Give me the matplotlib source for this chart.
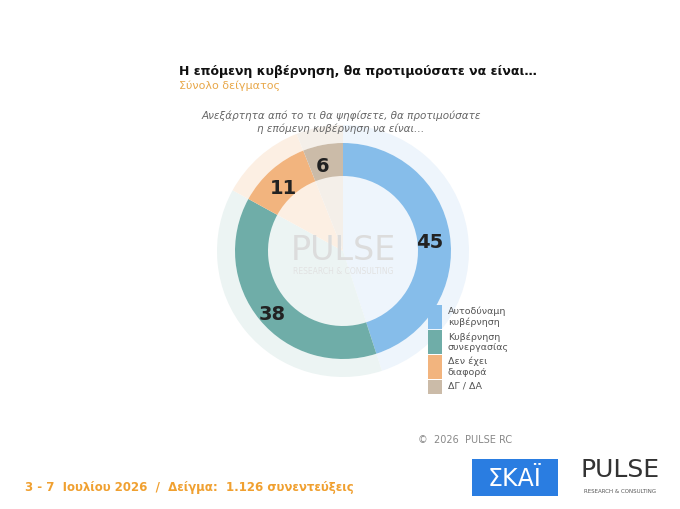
import matplotlib.pyplot as plt
from matplotlib.patches import Rectangle

labels = ['Αυτοδύναμη\nκυβέρνηση', 'Κυβέρνηση\nσυνεργασίας', 'Δεν έχει\nδιαφορά', 'ΔΓ / ΔΑ']
values = [45, 38, 11, 6]
colors = ['#86bdea', '#6fada8', '#f2b47e', '#cbbba8']
pale = ['#eef5fc', '#ecf4f3', '#fcefe3', '#f4efe9']

W, H = 680, 510
fig = plt.figure(figsize=(6.8, 5.1), dpi=100)
fig.patch.set_facecolor('white')


def px(x, y):
    return x / W, 1 - y / H


cx, cy = 343, 252
half = 140
ax = fig.add_axes([(cx - half) / W, 1 - (cy + half) / H, 2 * half / W, 2 * half / H])

# pale halo and centre
ax.pie(values, colors=pale, radius=1.26, startangle=90, counterclock=False,
       wedgeprops=dict(width=0.18, edgecolor='none'))
ax.pie(values, colors=pale, radius=0.76, startangle=90, counterclock=False,
       wedgeprops=dict(edgecolor='none'))
ax.pie(values, colors=colors, radius=1.08, startangle=90, counterclock=False,
       wedgeprops=dict(width=0.33, edgecolor='none'))
ax.set_xlim(-1.4, 1.4)
ax.set_ylim(-1.4, 1.4)
ax.set_aspect('equal')
ax.axis('off')
ax.text(0, 0.02, 'PULSE', ha='center', va='center', fontsize=24, color='#dcdcdc')
ax.text(0, -0.2, 'RESEARCH & CONSULTING', ha='center', va='center', fontsize=5.5, color='#e2e2e2')

lab_pos = [(430, 243), (272, 314), (283, 188), (323, 167)]
for v, (x, y) in zip(values, lab_pos):
    fig.text(*px(x, y), str(v), ha='center', va='center', fontsize=14,
             fontweight='bold', color='#222222')

fig.text(*px(179, 72), 'Η επόμενη κυβέρνηση, θα προτιμούσατε να είναι…', fontsize=9,
         fontweight='bold', color='#111111', va='center')
fig.text(*px(179, 86), 'Σύνολο δείγματος', fontsize=8, color='#e8a84a', va='center')
fig.text(*px(341, 122), 'Ανεξάρτητα από το τι θα ψηφίσετε, θα προτιμούσατε\nη επόμενη κυβέρνηση να είναι…',
         fontsize=7.5, style='italic', color='#666666', ha='center', va='center', linespacing=1.25)

# legend
tops = [306, 331, 356, 381]
heights = [24, 24, 24, 14]
for lab, c, t, h in zip(labels, colors, tops, heights):
    fig.add_artist(Rectangle(px(428, t + h), 14 / W, h / H, transform=fig.transFigure,
                             facecolor=c, edgecolor='none', zorder=5))
    fig.text(*px(448, t + 1), lab, fontsize=6.8, color='#555555', va='top', linespacing=1.15)

fig.text(*px(418, 440), '©  2026  PULSE RC', fontsize=7, color='#888888', va='center')
fig.text(*px(25, 487), '3 - 7  Ιουλίου 2026  /  Δείγμα:  1.126 συνεντεύξεις', fontsize=8.5,
         fontweight='bold', color='#f0a030', va='center')

# logos
fig.add_artist(Rectangle(px(472, 497), 86 / W, 37 / H, transform=fig.transFigure,
                         facecolor='#2a7de1', edgecolor='none', zorder=5))
fig.text(*px(515, 479), 'ΣΚΑΪ', fontsize=17, color='white', ha='center', va='center', zorder=6)
fig.text(*px(620, 470), 'PULSE', fontsize=18, color='#333333', ha='center', va='center')
fig.text(*px(620, 492), 'RESEARCH & CONSULTING', fontsize=4, color='#555555', ha='center', va='center')

fig.savefig('out.png', dpi=100)
